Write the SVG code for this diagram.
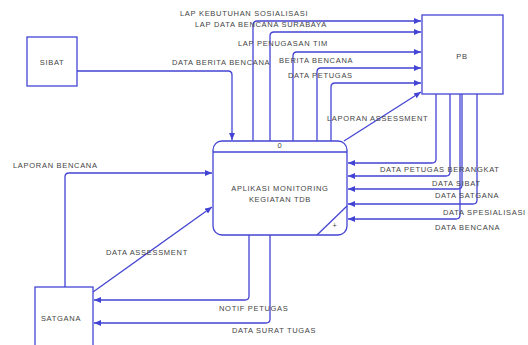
<svg xmlns="http://www.w3.org/2000/svg" width="528" height="345" viewBox="0 0 528 345">
<style>
.box{fill:#fff;stroke:#4444d4;stroke-width:1.3}
.ln{fill:none;stroke:#4444d4;stroke-width:1.3;marker-end:url(#ah)}
.pl{fill:none;stroke:#4444d4;stroke-width:1.3}
.t{font-family:"Liberation Sans",Arial,sans-serif;font-size:7.5px;letter-spacing:0.7px;fill:#444}
.c{text-anchor:middle}
</style>
<defs>
<marker id="ah" markerUnits="userSpaceOnUse" markerWidth="8" markerHeight="6" refX="7" refY="3" orient="auto">
<path d="M0,0 L7,3 L0,6 z" fill="#4444d4"/>
</marker>
</defs>
<rect width="528" height="345" fill="#fff"/>
<g id="connectors">
<path class="ln" d="M77,71 H228 Q232,71 232,75 V140"/>
<path class="ln" d="M253,141 V25 Q253,21 257,21 H421"/>
<path class="ln" d="M270,141 V36 Q270,32 274,32 H421"/>
<path class="ln" d="M293,141 V56 Q293,52 297,52 H421"/>
<path class="ln" d="M317,141 V72 Q317,68 321,68 H421"/>
<path class="ln" d="M331,141 V87 Q331,83 335,83 H421"/>
<path class="ln" d="M344,141 L421,92"/>
<path class="ln" d="M436,94 V159 Q436,163 432,163 H348"/>
<path class="ln" d="M450,94 V172 Q450,176 446,176 H348"/>
<path class="ln" d="M462,94 V185 Q462,189 458,189 H348"/>
<path class="ln" d="M477,94 V200 Q477,204 473,204 H348"/>
<path class="ln" d="M460,94 V215 Q460,219 456,219 H348"/>
<path class="ln" d="M65,287 V177 Q65,173 69,173 H212"/>
<path class="ln" d="M93,292 L212,207"/>
<path class="ln" d="M249,235 V296 Q249,300 245,300 H94"/>
<path class="ln" d="M270,235 V319 Q270,323 266,323 H94"/>
</g>
<g id="sibat">
<rect class="box" x="27" y="37" width="50" height="49"/>
<text class="t c" x="52" y="64.5">SIBAT</text>
</g>
<g id="pb">
<rect class="box" x="422" y="15" width="81" height="79"/>
<text class="t c" x="462" y="59">PB</text>
</g>
<g id="satgana">
<rect class="box" x="35" y="287" width="58" height="62"/>
<text class="t c" x="61" y="320.5">SATGANA</text>
</g>
<g id="process">
<rect class="box" x="213" y="141" width="134" height="94" rx="9" ry="9"/>
<line class="pl" x1="213" y1="152" x2="347" y2="152"/>
<line class="pl" x1="317" y1="235" x2="347" y2="206"/>
<text class="t c" x="280" y="148">0</text>
<text class="t c" x="280" y="190.5">APLIKASI MONITORING</text>
<text class="t c" x="280" y="201.5">KEGIATAN TDB</text>
<text class="t c" x="335" y="227.5">+</text>
</g>
<g id="labels">
<text class="t" x="180" y="15.5">LAP KEBUTUHAN SOSIALISASI</text>
<text class="t" x="195" y="26.5">LAP DATA BENCANA SURABAYA</text>
<text class="t" x="238" y="46">LAP PENUGASAN TIM</text>
<text class="t" x="172" y="64.5">DATA BERITA BENCANA</text>
<text class="t" x="279" y="62.5">BERITA BENCANA</text>
<text class="t" x="288" y="77.5">DATA PETUGAS</text>
<text class="t" x="327" y="120.5">LAPORAN ASSESSMENT</text>
<text class="t" x="380" y="171.5">DATA PETUGAS BERANGKAT</text>
<text class="t" x="432" y="185.5">DATA SIBAT</text>
<text class="t" x="435" y="197.5">DATA SATGANA</text>
<text class="t" x="443" y="214.5">DATA SPESIALISASI</text>
<text class="t" x="435" y="229.5">DATA BENCANA</text>
<text class="t" x="13" y="167.5">LAPORAN BENCANA</text>
<text class="t" x="106" y="254.5">DATA ASSESSMENT</text>
<text class="t" x="219" y="310.5">NOTIF PETUGAS</text>
<text class="t" x="232" y="332.5">DATA SURAT TUGAS</text>
</g>
</svg>
